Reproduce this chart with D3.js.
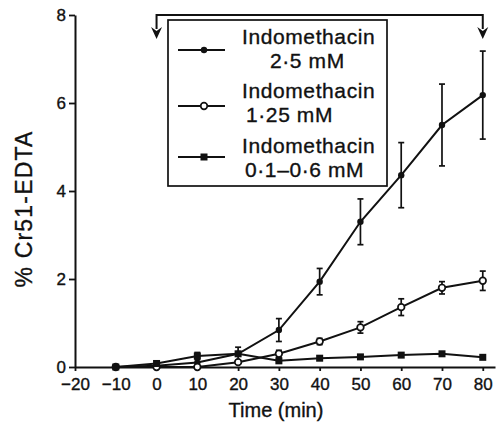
<!DOCTYPE html>
<html>
<head>
<meta charset="utf-8">
<script src="https://cdn.jsdelivr.net/npm/d3@7"></script>
<style>
  body { margin: 0; background: #fff; }
  svg { display: block; font-family: "Liberation Sans", Arial, sans-serif; }
  text { stroke: #111; stroke-width: 0.35px; }
</style>
</head>
<body>
<div id="chart"></div>
<script>
// Data
const times = [-10, 0, 10, 20, 30, 40, 50, 60, 70, 80];
const indo25 = [0, 0.03, 0.1, 0.3, 0.84, 1.94, 3.3, 4.36, 5.5, 6.18];
const indo25Err = [0, 0, 0, 0.15, 0.26, 0.3, 0.52, 0.74, 0.93, 1.0];
const indo125 = [0, 0, 0, 0.11, 0.3, 0.58, 0.9, 1.36, 1.8, 1.96];
const indo125Err = [0, 0, 0, 0, 0.08, 0.07, 0.13, 0.19, 0.14, 0.22];
const indoLow = [0, 0.08, 0.25, 0.3, 0.14, 0.2, 0.23, 0.27, 0.3, 0.22];
const indoLowErr = [0, 0, 0.08, 0, 0, 0, 0, 0, 0, 0];
const xTicks = [-20, -10, 0, 10, 20, 30, 40, 50, 60, 70, 80];
const yTicks = [0, 2, 4, 6, 8];
const legendLabels = [
  ["Indomethacin", "2\u00b75 mM"],
  ["Indomethacin", "1\u00b725 mM"],
  ["Indomethacin", "0\u00b71\u20130\u00b76 mM"]
];

const width = 497;
const height = 426;

const svg = d3
  .select("#chart")
  .append("svg")
  .attr("width", width)
  .attr("height", height);

// scales (axis line runs a little past 80)
const x = d3.scaleLinear().domain([-20, 83]).range([75, 495]);
const y = d3.scaleLinear().domain([0, 8]).range([367, 15]);

const fmt = (d) => (d < 0 ? "\u2212" + Math.abs(d) : String(d));

// x axis
const xAxis = svg
  .append("g")
  .attr("transform", `translate(0,${y(0)})`)
  .call(d3.axisBottom(x).tickValues(xTicks).tickFormat(fmt).tickSize(4).tickSizeOuter(0).tickPadding(7));

// y axis
const yAxis = svg
  .append("g")
  .attr("transform", `translate(${x(-20)},0)`)
  .call(d3.axisLeft(y).tickValues(yTicks).tickSize(6).tickSizeOuter(0).tickPadding(3));

[xAxis, yAxis].forEach((g) => {
  g.select(".domain").attr("stroke", "#111").attr("stroke-width", 2);
  g.selectAll(".tick line").attr("stroke", "#111").attr("stroke-width", 1.8);
  g.selectAll(".tick text")
    .attr("fill", "#111")
    .style("font-size", "17px")
    .style("font-family", "'Liberation Sans', Arial, sans-serif");
});

// axis titles
svg
  .append("text")
  .attr("x", 276)
  .attr("y", 417)
  .attr("text-anchor", "middle")
  .style("font-size", "20px")
  .attr("fill", "#111")
  .text("Time (min)");

svg
  .append("text")
  .attr("transform", `translate(32,209) rotate(-90)`)
  .attr("text-anchor", "middle")
  .style("font-size", "23px")
  .style("letter-spacing", "1.2px")
  .attr("fill", "#111")
  .text("% Cr51-EDTA");

// series
const series = [
  { vals: indo25, err: indo25Err, marker: "dot" },
  { vals: indo125, err: indo125Err, marker: "open" },
  { vals: indoLow, err: indoLowErr, marker: "square" }
];

const line = d3
  .line()
  .x((d) => x(d.t))
  .y((d) => y(d.v));

function drawMarker(g, type, cx, cy) {
  if (type === "dot") {
    g.append("circle").attr("cx", cx).attr("cy", cy).attr("r", 3.2).attr("fill", "#111");
  } else if (type === "open") {
    g.append("circle")
      .attr("cx", cx)
      .attr("cy", cy)
      .attr("r", 3.3)
      .attr("fill", "#fff")
      .attr("stroke", "#111")
      .attr("stroke-width", 1.7);
  } else {
    g.append("rect")
      .attr("x", cx - 3.5)
      .attr("y", cy - 3.5)
      .attr("width", 7)
      .attr("height", 7)
      .attr("fill", "#111");
  }
}

const plot = svg.append("g");

series.forEach((s) => {
  const pts = times.map((t, i) => ({ t, v: s.vals[i], e: s.err[i] }));
  plot
    .append("path")
    .datum(pts)
    .attr("d", line)
    .attr("fill", "none")
    .attr("stroke", "#111")
    .attr("stroke-width", 2);

  // error bars
  pts
    .filter((d) => d.e > 0)
    .forEach((d) => {
      const cx = x(d.t);
      const y1 = y(d.v + d.e);
      const y2 = y(Math.max(0, d.v - d.e));
      plot.append("line").attr("x1", cx).attr("x2", cx).attr("y1", y1).attr("y2", y2)
        .attr("stroke", "#111").attr("stroke-width", 1.7);
      [y1, y2].forEach((yy) => {
        plot.append("line").attr("x1", cx - 3).attr("x2", cx + 3).attr("y1", yy).attr("y2", yy)
          .attr("stroke", "#111").attr("stroke-width", 1.7);
      });
    });

  pts.forEach((d) => drawMarker(plot, s.marker, x(d.t), y(d.v)));
});

// bracket showing the indomethacin period (0 to 80 min)
const bracketY = 15;
const bx0 = x(0);
const bx1 = x(80);
svg
  .append("path")
  .attr("d", `M${bx0},29 V${bracketY} H${bx1} V29`)
  .attr("fill", "none")
  .attr("stroke", "#111")
  .attr("stroke-width", 2);
[bx0, bx1].forEach((bx) => {
  svg
    .append("path")
    .attr("d", `M${bx - 5.5},27 L${bx},31 L${bx + 5.5},27 L${bx},39 Z`)
    .attr("fill", "#111");
});

// legend
const legend = svg.append("g");
legend
  .append("rect")
  .attr("x", 168)
  .attr("y", 20)
  .attr("width", 219)
  .attr("height", 166)
  .attr("fill", "#fff")
  .attr("stroke", "#111")
  .attr("stroke-width", 1.7);

const legendRowY = [50, 106, 157];
const legendTextY = [[44, 68], [98, 122], [153, 177]];
const legendSubX = [270, 246, 245];
series.forEach((s, i) => {
  legend.append("line")
    .attr("x1", 178).attr("x2", 225)
    .attr("y1", legendRowY[i]).attr("y2", legendRowY[i])
    .attr("stroke", "#111").attr("stroke-width", 2);
  drawMarker(legend, s.marker, 204, legendRowY[i]);
  legend.append("text")
    .attr("x", 242).attr("y", legendTextY[i][0])
    .style("font-size", "21px").style("letter-spacing", "0.6px")
    .attr("fill", "#111")
    .text(legendLabels[i][0]);
  legend.append("text")
    .attr("x", legendSubX[i]).attr("y", legendTextY[i][1])
    .style("font-size", "21px").style("letter-spacing", "0.6px")
    .attr("fill", "#111")
    .text(legendLabels[i][1]);
});
</script>
</body>
</html>
